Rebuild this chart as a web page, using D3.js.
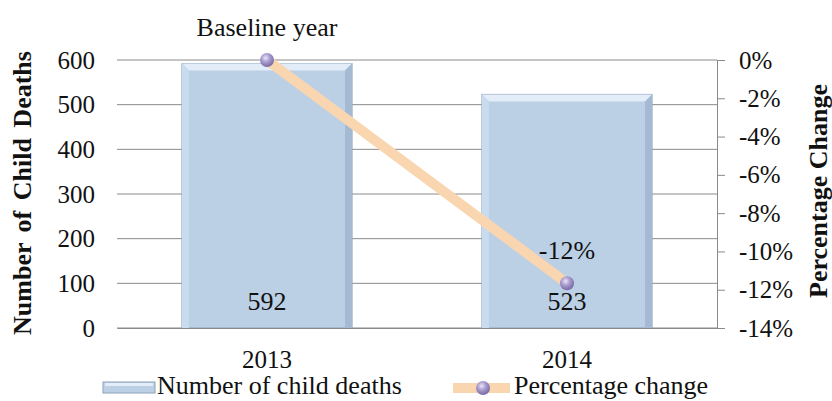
<!DOCTYPE html>
<meta charset="utf-8">
<style>
body { margin: 0; background: #fff; }
svg { display: block; }
text { font-family: "Liberation Serif", "Times New Roman", serif; fill: #111; }
.grid line { stroke: #8a8a8a; stroke-width: 1px; }
.axis-title { font-size: 26px; font-weight: bold; }
.lbl { font-size: 26px; }
</style>
<svg width="832" height="401"></svg>
<script src="https://cdn.jsdelivr.net/npm/d3@7"></script>
<script>

const years = ['2013', '2014'];
const deaths = [592, 523];
const pctChange = [0, -11.66];
const pctLabels = ['Baseline year', '-12%'];
const leftTicks = [0, 100, 200, 300, 400, 500, 600];
const rightTicks = [0, -2, -4, -6, -8, -10, -12, -14];

const margin = { top: 60, right: 115, bottom: 73, left: 117 };
const width = 832, height = 401;
const iw = width - margin.left - margin.right;
const ih = height - margin.top - margin.bottom;
const serif = '"Liberation Serif", "Times New Roman", serif';

const svg = d3.select('svg');
const defs = svg.append('defs');

const bead = defs.append('radialGradient').attr('id', 'bead')
  .attr('cx', '40%').attr('cy', '35%').attr('r', '65%');
bead.append('stop').attr('offset', '0%').attr('stop-color', '#ece6f8');
bead.append('stop').attr('offset', '45%').attr('stop-color', '#ab9ed0');
bead.append('stop').attr('offset', '100%').attr('stop-color', '#7a6ba4');

const g = svg.append('g').attr('transform', `translate(${margin.left},${margin.top})`);

const x = d3.scaleBand().domain(years).range([0, iw]).paddingInner(0.433).paddingOuter(0.2165);
const y = d3.scaleLinear().domain([0, 600]).range([ih, 0]);
const y2 = d3.scaleLinear().domain([-14, 0]).range([ih, 0]);

// gridlines
g.append('g').attr('class', 'grid')
  .selectAll('line').data(leftTicks).enter().append('line')
  .attr('x1', 0).attr('x2', iw)
  .attr('y1', d => y(d)).attr('y2', d => y(d));

// bars with bevel
const bev = 7;
const bars = g.selectAll('.bar').data(deaths).enter().append('g').attr('class', 'bar');
bars.append('rect')
  .attr('x', (d, i) => x(years[i]))
  .attr('y', d => y(d))
  .attr('width', x.bandwidth())
  .attr('height', d => ih - y(d))
  .attr('fill', '#bbcfe5')
  .attr('stroke', '#8fa3bb').attr('stroke-width', 1);
bars.append('path')
  .attr('d', (d, i) => {
    const x0 = x(years[i]), x1 = x0 + x.bandwidth(), t = y(d);
    return `M${x0},${t}L${x1},${t}L${x1 - bev},${t + bev}L${x0 + bev},${t + bev}Z`;
  })
  .attr('fill', '#e2edf9');
bars.append('path')
  .attr('d', (d, i) => {
    const x0 = x(years[i]), t = y(d);
    return `M${x0},${t}L${x0 + bev},${t + bev}L${x0 + bev},${ih}L${x0},${ih}Z`;
  })
  .attr('fill', '#c9dbee');
bars.append('path')
  .attr('d', (d, i) => {
    const x1 = x(years[i]) + x.bandwidth(), t = y(d);
    return `M${x1},${t}L${x1 - bev},${t + bev}L${x1 - bev},${ih}L${x1},${ih}Z`;
  })
  .attr('fill', '#a4b9d2');

// bar value labels
g.selectAll('.val').data(deaths).enter().append('text')
  .attr('class', 'lbl')
  .attr('x', (d, i) => x(years[i]) + x.bandwidth() / 2)
  .attr('y', ih - 18)
  .attr('text-anchor', 'middle')
  .text(d => d);

// left axis
const leftAxis = g.append('g')
  .call(d3.axisLeft(y).tickValues(leftTicks).tickSize(0).tickPadding(22))
  .attr('font-family', serif).attr('font-size', 25);
leftAxis.select('.domain').remove();
leftAxis.selectAll('text').attr('fill', '#111');

// right axis
const rightAxis = g.append('g').attr('transform', `translate(${iw},0)`)
  .call(d3.axisRight(y2).tickValues(rightTicks).tickSize(8).tickPadding(14)
    .tickFormat(d => d + '%'))
  .attr('font-family', serif).attr('font-size', 25);
rightAxis.select('.domain').attr('stroke', '#8a8a8a');
rightAxis.selectAll('.tick line').attr('stroke', '#8a8a8a');
rightAxis.selectAll('text').attr('fill', '#111');

// x axis labels
const xAxis = g.append('g').attr('transform', `translate(0,${ih})`)
  .call(d3.axisBottom(x).tickSize(0).tickPadding(22))
  .attr('font-family', serif).attr('font-size', 25);
xAxis.select('.domain').attr('stroke', '#8a8a8a');
xAxis.selectAll('text').attr('fill', '#111');

// percentage line
const cx = d => x(d) + x.bandwidth() / 2;
const line = d3.line().x((d, i) => cx(years[i])).y(d => y2(d));
g.append('path').datum(pctChange)
  .attr('d', line)
  .attr('fill', 'none')
  .attr('stroke', '#fad6b0')
  .attr('stroke-width', 10);
g.selectAll('.pt').data(pctChange).enter().append('circle')
  .attr('cx', (d, i) => cx(years[i]))
  .attr('cy', d => y2(d))
  .attr('r', 7)
  .attr('fill', 'url(#bead)');

// percentage labels
g.selectAll('.plbl').data(pctLabels).enter().append('text')
  .attr('class', 'lbl')
  .attr('x', (d, i) => cx(years[i]))
  .attr('y', (d, i) => y2(pctChange[i]) - 24)
  .attr('text-anchor', 'middle')
  .text(d => d);

// axis titles
svg.append('text').attr('class', 'axis-title')
  .attr('transform', 'translate(31,193) rotate(-90)')
  .attr('text-anchor', 'middle')
  .attr('word-spacing', 4)
  .text('Number of Child Deaths');
svg.append('text').attr('class', 'axis-title')
  .attr('transform', 'translate(827,191) rotate(-90)')
  .attr('text-anchor', 'middle')
  .text('Percentage Change');

// legend
const lg = svg.append('g').attr('transform', 'translate(0,388)');
lg.append('rect').attr('x', 103).attr('y', -6).attr('width', 52).attr('height', 11)
  .attr('fill', '#bbcfe5').attr('stroke', '#8fa3bb');
lg.append('rect').attr('x', 105).attr('y', -5).attr('width', 48).attr('height', 3)
  .attr('fill', '#e2edf9');
lg.append('text').attr('class', 'lbl').attr('x', 157).attr('y', 6).text('Number of child deaths');
lg.append('line').attr('x1', 453).attr('x2', 510).attr('y1', 0).attr('y2', 0)
  .attr('stroke', '#fad6b0').attr('stroke-width', 10);
lg.append('circle').attr('cx', 483).attr('cy', 0).attr('r', 7).attr('fill', 'url(#bead)');
lg.append('text').attr('class', 'lbl').attr('x', 514).attr('y', 6).text('Percentage change');
</script>
